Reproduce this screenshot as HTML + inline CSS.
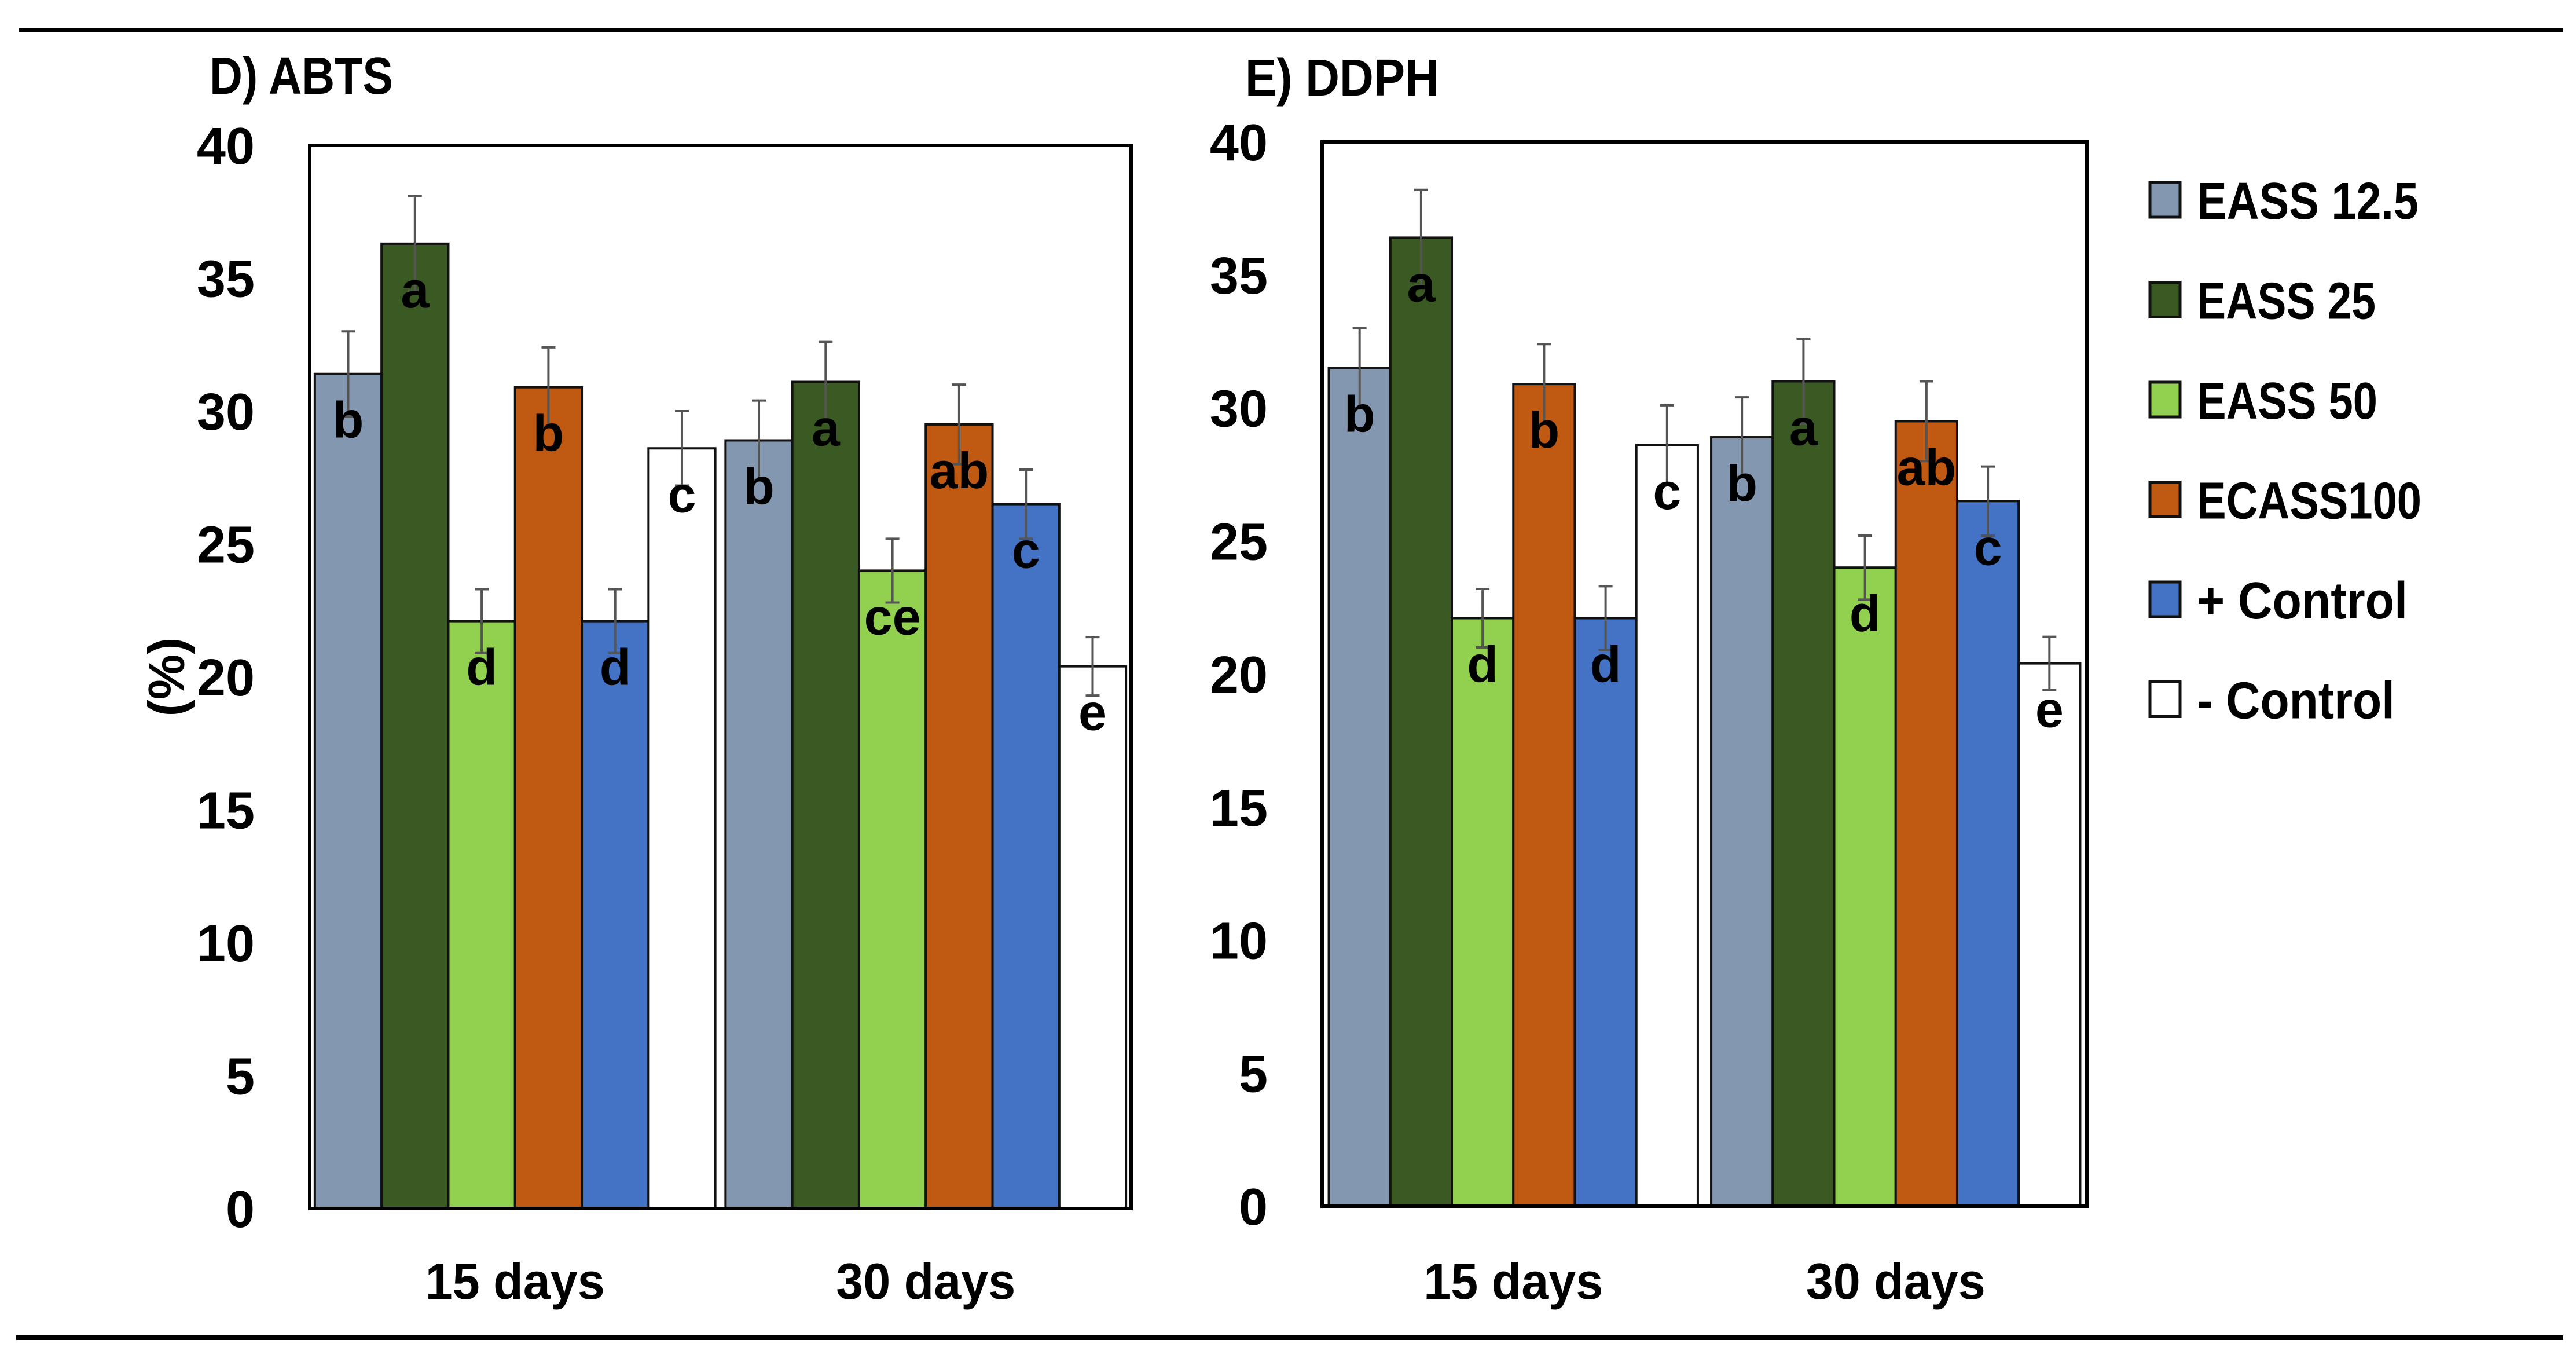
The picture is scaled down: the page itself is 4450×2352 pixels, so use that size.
<!DOCTYPE html>
<html><head><meta charset="utf-8">
<style>
html,body{margin:0;padding:0;background:#fff;}
svg{display:block;}
text{font-family:"Liberation Sans",sans-serif;font-weight:bold;fill:#000;}
</style></head>
<body>
<svg id="fig" width="4450" height="2352" viewBox="0 0 4450 2352" xmlns="http://www.w3.org/2000/svg">
  <rect x="0" y="0" width="4450" height="2352" fill="#fff"/>
  <rect x="33" y="49" width="4395" height="6" fill="#000"/>
  <rect x="28" y="2306" width="4400" height="8" fill="#000"/>
  <g id="chartD"></g>
  <g id="chartE"></g>
  <g id="legend"></g>
</svg>
<script>
const categories = ["15 days", "30 days"];
const seriesNames = ["EASS 12.5", "EASS 25", "EASS 50", "ECASS100", "+ Control", "- Control"];
const yTicks = [0, 5, 10, 15, 20, 25, 30, 35, 40];
const abtsValues = [[31.4, 36.3, 22.1, 30.9, 22.1, 28.6], [28.9, 31.1, 24.0, 29.5, 26.5, 20.4]];
const abtsErrors = [[1.6, 1.8, 1.2, 1.5, 1.2, 1.4], [1.5, 1.5, 1.2, 1.5, 1.3, 1.1]];
const abtsLetters = [["b", "a", "d", "b", "d", "c"], ["b", "a", "ce", "ab", "c", "e"]];
const ddphValues = [[31.5, 36.4, 22.1, 30.9, 22.1, 28.6], [28.9, 31.0, 24.0, 29.5, 26.5, 20.4]];
const ddphErrors = [[1.5, 1.8, 1.1, 1.5, 1.2, 1.5], [1.5, 1.6, 1.2, 1.5, 1.3, 1.0]];
const ddphLetters = [["b", "a", "d", "b", "d", "c"], ["b", "a", "d", "ab", "c", "e"]];

const colors = ["#8497b0", "#3b5a23", "#92d050", "#c05a12", "#4472c4", "#ffffff"];
const NS = "http://www.w3.org/2000/svg";
function mk(tag, attrs, parent) {
  const e = document.createElementNS(NS, tag);
  for (const k in attrs) e.setAttribute(k, attrs[k]);
  parent.appendChild(e);
  return e;
}

function drawChart(g, cfg, values, errors, letters) {
  const yScale = v => cfg.bottom - (v / 40) * (cfg.bottom - cfg.top);
  const catW = (cfg.right - cfg.left) / categories.length;
  const barW = catW * cfg.fill / seriesNames.length;
  const xBar = (c, s) => cfg.left + c * catW + (catW - barW * seriesNames.length) / 2 + s * barW;

  const title = mk("text", {x: cfg.titleX, y: cfg.titleY, "font-size": 90, textLength: cfg.titleW, lengthAdjust: "spacingAndGlyphs"}, g);
  title.textContent = cfg.title;
  
  

  yTicks.forEach(t => {
    const tx = mk("text", {x: cfg.tickX, y: yScale(t) + 32, "font-size": 90, "text-anchor": "end"}, g);
    tx.textContent = String(t);
    
    
  });

  if (cfg.yLabel) {
    const yl = mk("text", {x: 0, y: 0, "font-size": 88, "text-anchor": "middle", transform: "translate(318," + yScale(20) + ") rotate(-90)"}, g);
    yl.textContent = "(%)";
    
    
  }

  categories.forEach((cat, c) => {
    values[c].forEach((v, s) => {
      const x = xBar(c, s);
      const top = yScale(v);
      const bar = mk("rect", {x: x, y: top, width: barW, height: cfg.bottom - top, fill: colors[s], stroke: "#111", "stroke-width": 4}, g);
      
      
      const cx = x + barW / 2;
      const e = errors[c][s];
      const eb = mk("path", {d: "M" + cx + "," + yScale(v + e) + "V" + yScale(v - e) + "M" + (cx - 12) + "," + yScale(v + e) + "h24M" + (cx - 12) + "," + yScale(v - e) + "h24", stroke: "#555", "stroke-width": 4, fill: "none"}, g);
      
      
      const lt = mk("text", {x: cx, y: top + 110, "font-size": 88, "text-anchor": "middle"}, g);
      lt.textContent = letters[c][s];
      
      
    });
    const cl = mk("text", {x: cfg.left + (c + 0.5) * catW, y: 2243, "font-size": 88, "text-anchor": "middle", textLength: 310, lengthAdjust: "spacingAndGlyphs"}, g);
    cl.textContent = cat;
    
    
  });

  const frame = mk("rect", {x: cfg.left, y: cfg.top, width: cfg.right - cfg.left, height: cfg.bottom - cfg.top, fill: "none", stroke: "#000", "stroke-width": 6}, g);
  
  
}

drawChart(document.getElementById("chartD"),
  {left: 535, right: 1954, top: 251, bottom: 2087, fill: 0.975, title: "D) ABTS", titleX: 362, titleY: 162, titleW: 317, tickX: 440, yLabel: true},
  abtsValues, abtsErrors, abtsLetters);
drawChart(document.getElementById("chartE"),
  {left: 2284, right: 3605, top: 245, bottom: 2083, fill: 0.965, title: "E) DDPH", titleX: 2151, titleY: 165, titleW: 335, tickX: 2190, yLabel: false},
  ddphValues, ddphErrors, ddphLetters);

const legendW = [383, 309, 312, 388, 364, 342];
const lg = document.getElementById("legend");
seriesNames.forEach((n, i) => {
  const cy = 345 + i * 172.5;
  const box = mk("rect", {x: 3714, y: cy - 30, width: 52, height: 60, fill: colors[i], stroke: "#111", "stroke-width": 5}, lg);
  
  
  const t = mk("text", {x: 3795, y: cy + 33, "font-size": 90, textLength: legendW[i], lengthAdjust: "spacingAndGlyphs"}, lg);
  t.textContent = n;
  
  
});
</script>
</body></html>
